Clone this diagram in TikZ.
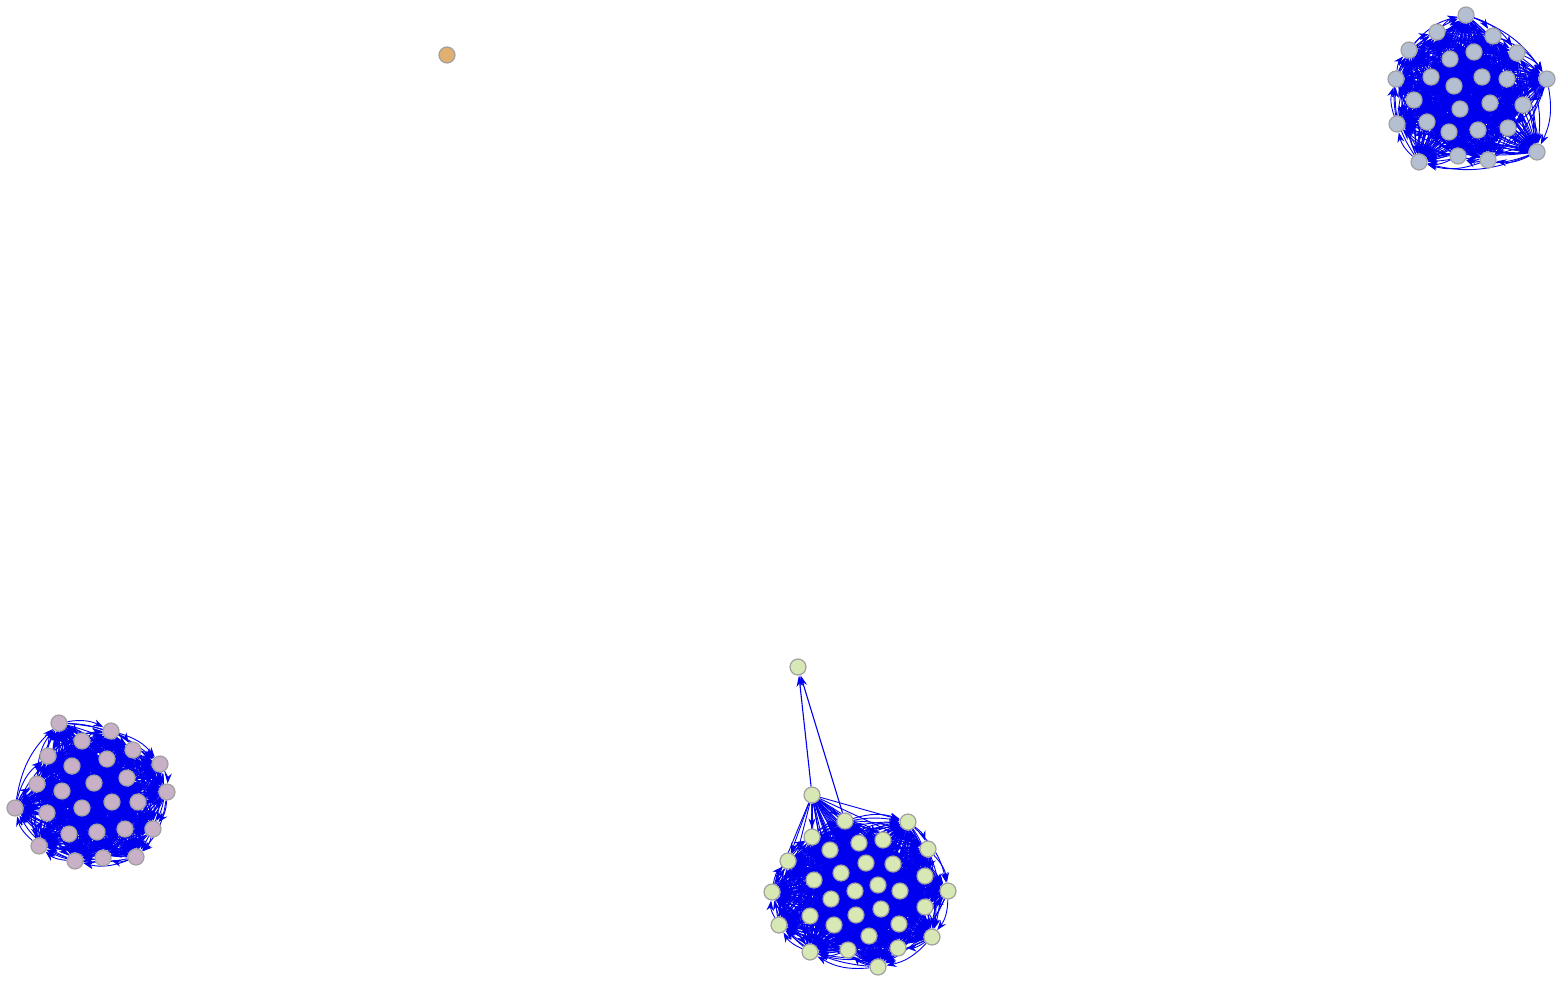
\documentclass[tikz,border=0pt]{standalone}
\usetikzlibrary{arrows.meta,backgrounds}
\definecolor{edgeblue}{RGB}{0,0,238}
\definecolor{nodeborder}{RGB}{160,160,160}
\definecolor{fillA}{RGB}{180,192,210}
\definecolor{fillB}{RGB}{200,176,198}
\definecolor{fillC}{RGB}{216,232,180}
\definecolor{fillD}{RGB}{224,176,112}
\begin{document}
\begin{tikzpicture}[x=1pt,y=-1pt,
  vtx/.style={circle,draw=nodeborder,line width=1.2pt,inner sep=0pt,minimum size=16pt},
  edge/.style={draw=edgeblue,line width=0.9pt,-{Stealth[length=10pt,width=7pt]}},
  sedge/.style={draw=edgeblue,line width=1.1pt,-{Stealth[length=11pt,width=7pt]}}]
\useasboundingbox (0,0) rectangle (1563,980);
% cluster A (top right)
\foreach \n/\x/\y in {1/1466/15,2/1437/32,3/1493/36,4/1409/50,5/1517/53,6/1450/59,7/1474/52,8/1396/79,9/1431/77,10/1482/77,11/1507/79,12/1547/79,13/1454/86,14/1414/100,15/1460/109,16/1490/103,17/1523/105,18/1397/124,19/1427/122,20/1449/132,21/1478/130,22/1508/128,23/1537/152,24/1419/162,25/1458/156,26/1488/160}
  \node[vtx,fill=fillA] (a\n) at (\x,\y) {};
% cluster B (bottom left)
\foreach \n/\x/\y in {1/59/723,2/111/731,3/82/741,4/133/750,5/48/756,6/107/759,7/160/764,8/72/766,9/127/778,10/37/784,11/94/783,12/62/791,13/167/792,14/112/802,15/138/802,16/82/808,17/15/808,18/47/813,19/153/829,20/69/834,21/97/832,22/125/829,23/39/846,24/75/861,25/103/858,26/136/857}
  \node[vtx,fill=fillB] (b\n) at (\x,\y) {};
% cluster C (bottom middle)
\foreach \n/\x/\y in {1/798/667,2/812/795,3/845/821,4/908/822,5/812/837,6/830/850,7/859/843,8/883/840,9/928/849,10/788/861,11/866/863,12/893/864,13/841/873,14/814/880,15/925/876,16/878/885,17/855/891,18/900/891,19/948/891,20/772/892,21/831/899,22/810/916,23/856/915,24/881/909,25/925/907,26/779/925,27/834/925,28/899/924,29/869/936,30/932/937,31/810/952,32/848/950,33/898/948,34/878/967}
  \node[vtx,fill=fillC] (c\n) at (\x,\y) {};
% single node
\node[vtx,fill=fillD] (d1) at (447,55) {};
\begin{scope}[on background layer]
\foreach \i in {1,...,25}{
  \pgfmathtruncatemacro\k{\i+1}
  \foreach \j in {\k,...,26}{
    \draw[edge] (a\i) to[bend left=18] (a\j);
    \draw[edge] (a\j) to[bend left=18] (a\i);
    \draw[edge] (b\i) to[bend left=18] (b\j);
    \draw[edge] (b\j) to[bend left=18] (b\i);
  }}
\foreach \i in {3,...,33}{
  \pgfmathtruncatemacro\k{\i+1}
  \foreach \j in {\k,...,34}{
    \draw[edge] (c\i) to[bend left=18] (c\j);
    \draw[edge] (c\j) to[bend left=18] (c\i);
  }}
\foreach \j in {3,...,34}
  \draw[edge] (c2) -- (c\j);
\draw[sedge] (c2) -- (c1);
\draw[sedge] (c3) -- (c1);
\end{scope}
\end{tikzpicture}
\end{document}
